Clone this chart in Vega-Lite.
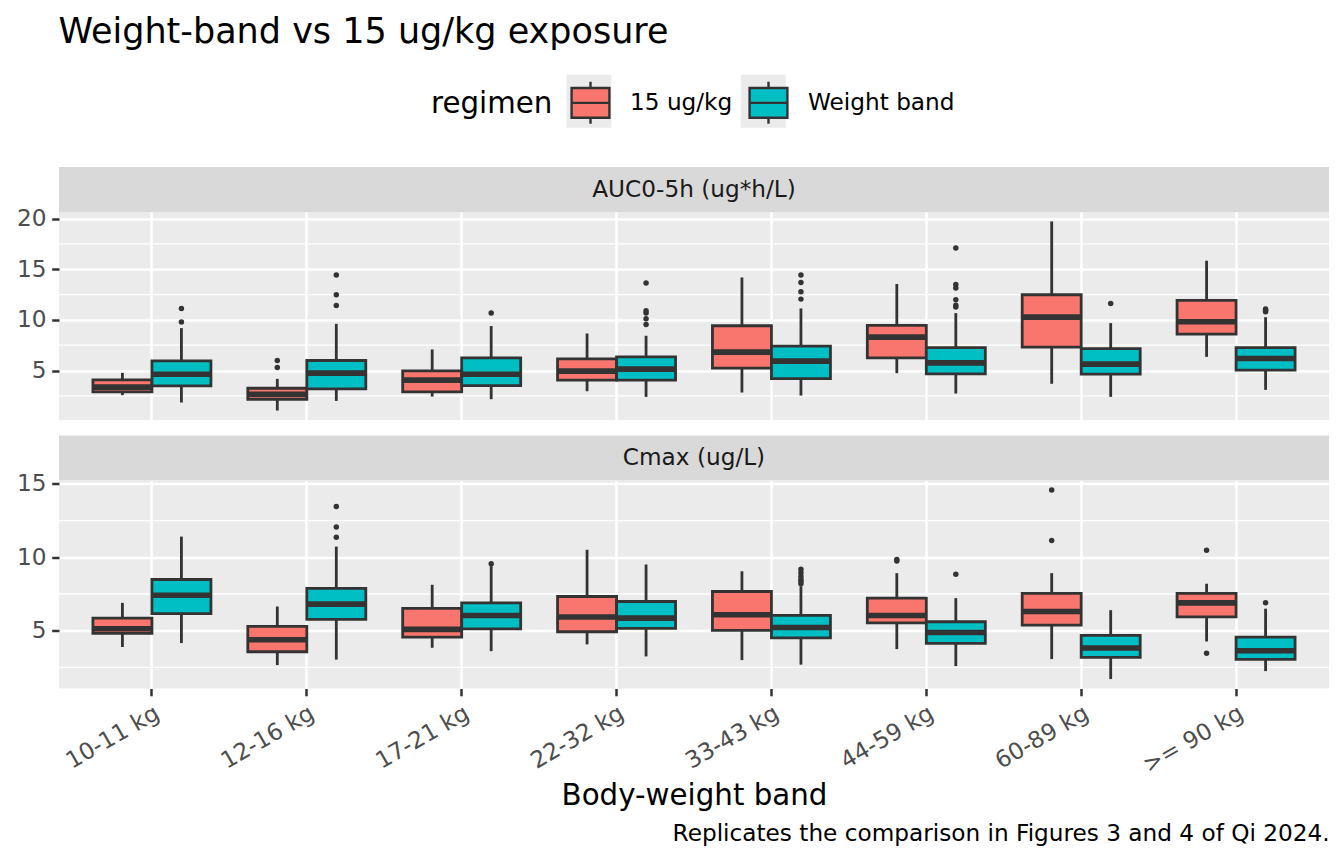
{
  "$schema": "https://vega.github.io/schema/vega-lite/v6.json",
  "padding": {"left": 16, "top": 15, "right": 16, "bottom": 10},
  "title": {
    "text": "Weight-band vs 15 ug/kg exposure",
    "anchor": "start",
    "fontSize": 35,
    "fontWeight": "normal",
    "color": "#000000",
    "dx": 42,
    "offset": 30
  },
  "datasets": {
    "boxes": [
      {"metric": "AUC", "band": "10-11 kg", "regimen": "15 ug/kg", "lower": 2.57, "q1": 2.9, "median": 3.36, "q3": 4.08, "upper": 4.77},
      {"metric": "AUC", "band": "10-11 kg", "regimen": "Weight band", "lower": 1.84, "q1": 3.49, "median": 4.64, "q3": 5.96, "upper": 9.19},
      {"metric": "AUC", "band": "12-16 kg", "regimen": "15 ug/kg", "lower": 1.05, "q1": 2.15, "median": 2.65, "q3": 3.25, "upper": 4.18},
      {"metric": "AUC", "band": "12-16 kg", "regimen": "Weight band", "lower": 2.0, "q1": 3.19, "median": 4.74, "q3": 5.99, "upper": 9.61},
      {"metric": "AUC", "band": "17-21 kg", "regimen": "15 ug/kg", "lower": 2.43, "q1": 2.9, "median": 4.05, "q3": 4.97, "upper": 7.08},
      {"metric": "AUC", "band": "17-21 kg", "regimen": "Weight band", "lower": 2.17, "q1": 3.52, "median": 4.64, "q3": 6.25, "upper": 9.39},
      {"metric": "AUC", "band": "22-32 kg", "regimen": "15 ug/kg", "lower": 2.96, "q1": 4.05, "median": 4.94, "q3": 6.16, "upper": 8.66},
      {"metric": "AUC", "band": "22-32 kg", "regimen": "Weight band", "lower": 2.4, "q1": 4.05, "median": 5.14, "q3": 6.35, "upper": 8.43},
      {"metric": "AUC", "band": "33-43 kg", "regimen": "15 ug/kg", "lower": 2.83, "q1": 5.24, "median": 6.82, "q3": 9.42, "upper": 14.19},
      {"metric": "AUC", "band": "33-43 kg", "regimen": "Weight band", "lower": 2.53, "q1": 4.21, "median": 5.93, "q3": 7.41, "upper": 11.13},
      {"metric": "AUC", "band": "44-59 kg", "regimen": "15 ug/kg", "lower": 4.74, "q1": 6.25, "median": 8.3, "q3": 9.45, "upper": 13.54},
      {"metric": "AUC", "band": "44-59 kg", "regimen": "Weight band", "lower": 2.73, "q1": 4.67, "median": 5.76, "q3": 7.27, "upper": 10.67},
      {"metric": "AUC", "band": "60-89 kg", "regimen": "15 ug/kg", "lower": 3.69, "q1": 7.31, "median": 10.27, "q3": 12.48, "upper": 19.72},
      {"metric": "AUC", "band": "60-89 kg", "regimen": "Weight band", "lower": 2.4, "q1": 4.64, "median": 5.63, "q3": 7.17, "upper": 9.68},
      {"metric": "AUC", "band": ">= 90 kg", "regimen": "15 ug/kg", "lower": 6.35, "q1": 8.6, "median": 9.81, "q3": 11.92, "upper": 15.84},
      {"metric": "AUC", "band": ">= 90 kg", "regimen": "Weight band", "lower": 3.09, "q1": 5.04, "median": 6.19, "q3": 7.27, "upper": 10.27},
      {"metric": "Cmax", "band": "10-11 kg", "regimen": "15 ug/kg", "lower": 3.89, "q1": 4.82, "median": 5.13, "q3": 5.86, "upper": 6.9},
      {"metric": "Cmax", "band": "10-11 kg", "regimen": "Weight band", "lower": 4.16, "q1": 6.16, "median": 7.42, "q3": 8.49, "upper": 11.41},
      {"metric": "Cmax", "band": "12-16 kg", "regimen": "15 ug/kg", "lower": 2.66, "q1": 3.57, "median": 4.39, "q3": 5.29, "upper": 6.65},
      {"metric": "Cmax", "band": "12-16 kg", "regimen": "Weight band", "lower": 3.03, "q1": 5.77, "median": 6.81, "q3": 7.88, "upper": 10.73},
      {"metric": "Cmax", "band": "17-21 kg", "regimen": "15 ug/kg", "lower": 3.84, "q1": 4.56, "median": 5.09, "q3": 6.52, "upper": 8.13},
      {"metric": "Cmax", "band": "17-21 kg", "regimen": "Weight band", "lower": 3.61, "q1": 5.13, "median": 6.04, "q3": 6.9, "upper": 9.4},
      {"metric": "Cmax", "band": "22-32 kg", "regimen": "15 ug/kg", "lower": 4.07, "q1": 4.93, "median": 5.93, "q3": 7.33, "upper": 10.51},
      {"metric": "Cmax", "band": "22-32 kg", "regimen": "Weight band", "lower": 3.25, "q1": 5.16, "median": 5.86, "q3": 6.99, "upper": 9.51},
      {"metric": "Cmax", "band": "33-43 kg", "regimen": "15 ug/kg", "lower": 3.0, "q1": 5.02, "median": 6.09, "q3": 7.67, "upper": 9.05},
      {"metric": "Cmax", "band": "33-43 kg", "regimen": "Weight band", "lower": 2.69, "q1": 4.52, "median": 5.22, "q3": 6.04, "upper": 8.03},
      {"metric": "Cmax", "band": "44-59 kg", "regimen": "15 ug/kg", "lower": 3.75, "q1": 5.54, "median": 6.04, "q3": 7.22, "upper": 8.92},
      {"metric": "Cmax", "band": "44-59 kg", "regimen": "Weight band", "lower": 2.59, "q1": 4.14, "median": 4.88, "q3": 5.61, "upper": 7.22},
      {"metric": "Cmax", "band": "60-89 kg", "regimen": "15 ug/kg", "lower": 3.07, "q1": 5.38, "median": 6.31, "q3": 7.54, "upper": 8.92},
      {"metric": "Cmax", "band": "60-89 kg", "regimen": "Weight band", "lower": 1.71, "q1": 3.18, "median": 3.82, "q3": 4.68, "upper": 6.4},
      {"metric": "Cmax", "band": ">= 90 kg", "regimen": "15 ug/kg", "lower": 4.27, "q1": 5.95, "median": 6.9, "q3": 7.54, "upper": 8.2},
      {"metric": "Cmax", "band": ">= 90 kg", "regimen": "Weight band", "lower": 2.25, "q1": 3.05, "median": 3.64, "q3": 4.56, "upper": 6.5}
    ],
    "outliers": [
      {"metric": "AUC", "band": "10-11 kg", "regimen": "Weight band", "value": 9.78},
      {"metric": "AUC", "band": "10-11 kg", "regimen": "Weight band", "value": 11.13},
      {"metric": "AUC", "band": "12-16 kg", "regimen": "15 ug/kg", "value": 5.3},
      {"metric": "AUC", "band": "12-16 kg", "regimen": "15 ug/kg", "value": 5.99},
      {"metric": "AUC", "band": "12-16 kg", "regimen": "Weight band", "value": 11.42},
      {"metric": "AUC", "band": "12-16 kg", "regimen": "Weight band", "value": 12.48},
      {"metric": "AUC", "band": "12-16 kg", "regimen": "Weight band", "value": 14.43},
      {"metric": "AUC", "band": "17-21 kg", "regimen": "Weight band", "value": 10.67},
      {"metric": "AUC", "band": "22-32 kg", "regimen": "Weight band", "value": 9.55},
      {"metric": "AUC", "band": "22-32 kg", "regimen": "Weight band", "value": 10.11},
      {"metric": "AUC", "band": "22-32 kg", "regimen": "Weight band", "value": 10.67},
      {"metric": "AUC", "band": "22-32 kg", "regimen": "Weight band", "value": 10.9},
      {"metric": "AUC", "band": "22-32 kg", "regimen": "Weight band", "value": 13.64},
      {"metric": "AUC", "band": "33-43 kg", "regimen": "Weight band", "value": 12.05},
      {"metric": "AUC", "band": "33-43 kg", "regimen": "Weight band", "value": 12.78},
      {"metric": "AUC", "band": "33-43 kg", "regimen": "Weight band", "value": 13.7},
      {"metric": "AUC", "band": "33-43 kg", "regimen": "Weight band", "value": 14.43},
      {"metric": "AUC", "band": "44-59 kg", "regimen": "Weight band", "value": 11.26},
      {"metric": "AUC", "band": "44-59 kg", "regimen": "Weight band", "value": 11.45},
      {"metric": "AUC", "band": "44-59 kg", "regimen": "Weight band", "value": 11.99},
      {"metric": "AUC", "band": "44-59 kg", "regimen": "Weight band", "value": 13.14},
      {"metric": "AUC", "band": "44-59 kg", "regimen": "Weight band", "value": 13.5},
      {"metric": "AUC", "band": "44-59 kg", "regimen": "Weight band", "value": 17.09},
      {"metric": "AUC", "band": "60-89 kg", "regimen": "Weight band", "value": 11.62},
      {"metric": "AUC", "band": ">= 90 kg", "regimen": "Weight band", "value": 10.8},
      {"metric": "AUC", "band": ">= 90 kg", "regimen": "Weight band", "value": 10.95},
      {"metric": "AUC", "band": ">= 90 kg", "regimen": "Weight band", "value": 11.07},
      {"metric": "Cmax", "band": "12-16 kg", "regimen": "Weight band", "value": 11.37},
      {"metric": "Cmax", "band": "12-16 kg", "regimen": "Weight band", "value": 12.07},
      {"metric": "Cmax", "band": "12-16 kg", "regimen": "Weight band", "value": 13.46},
      {"metric": "Cmax", "band": "17-21 kg", "regimen": "Weight band", "value": 9.56},
      {"metric": "Cmax", "band": "33-43 kg", "regimen": "Weight band", "value": 8.2},
      {"metric": "Cmax", "band": "33-43 kg", "regimen": "Weight band", "value": 8.35},
      {"metric": "Cmax", "band": "33-43 kg", "regimen": "Weight band", "value": 8.5},
      {"metric": "Cmax", "band": "33-43 kg", "regimen": "Weight band", "value": 8.71},
      {"metric": "Cmax", "band": "33-43 kg", "regimen": "Weight band", "value": 8.95},
      {"metric": "Cmax", "band": "33-43 kg", "regimen": "Weight band", "value": 9.19},
      {"metric": "Cmax", "band": "44-59 kg", "regimen": "15 ug/kg", "value": 9.75},
      {"metric": "Cmax", "band": "44-59 kg", "regimen": "15 ug/kg", "value": 9.85},
      {"metric": "Cmax", "band": "44-59 kg", "regimen": "Weight band", "value": 8.85},
      {"metric": "Cmax", "band": "60-89 kg", "regimen": "15 ug/kg", "value": 11.14},
      {"metric": "Cmax", "band": "60-89 kg", "regimen": "15 ug/kg", "value": 14.59},
      {"metric": "Cmax", "band": ">= 90 kg", "regimen": "15 ug/kg", "value": 3.46},
      {"metric": "Cmax", "band": ">= 90 kg", "regimen": "15 ug/kg", "value": 10.48},
      {"metric": "Cmax", "band": ">= 90 kg", "regimen": "Weight band", "value": 6.9}
    ],
    "minorGrid": [
      {"metric": "AUC", "minor": 2.5},
      {"metric": "AUC", "minor": 7.5},
      {"metric": "AUC", "minor": 12.5},
      {"metric": "AUC", "minor": 17.5},
      {"metric": "Cmax", "minor": 2.5},
      {"metric": "Cmax", "minor": 7.5},
      {"metric": "Cmax", "minor": 12.5}
    ],
    "stripAUC": [{"strip": "AUC0-5h (ug*h/L)"}],
    "stripCmax": [{"strip": "Cmax (ug/L)"}],
    "keys": []
  },
  "resolve": {"scale": {"y": "independent"}},
  "spacing": 14.5,
  "vconcat": [
    {
      "spacing": 0,
      "bounds": "flush",
      "resolve": {"scale": {"y": "independent"}},
      "vconcat": [
        {
          "width": 1270,
          "height": 45,
          "data": {"name": "stripAUC"},
          "view": {"fill": "#D9D9D9", "stroke": null},
          "mark": {"type": "text", "fontSize": 23.2, "color": "#1A1A1A"},
          "encoding": {"text": {"field": "strip", "type": "nominal"}}
        },
        {
          "width": 1270,
          "height": 208,
          "view": {"fill": "#EBEBEB", "stroke": null},
          "layer": [
            {
              "data": {"name": "minorGrid"},
              "transform": [{"filter": "datum.metric === 'AUC'"}],
              "mark": {"type": "rule", "color": "#FFFFFF", "strokeWidth": 1.3},
              "encoding": {
                "y": {
                  "field": "minor", "type": "quantitative", "title": null,
                  "scale": {"domain": [0.117, 20.65], "nice": false, "zero": false},
                  "axis": {
                    "orient": "left",
                    "title": null,
                    "values": [5, 10, 15, 20],
                    "labelFontSize": 23.2, "labelColor": "#4D4D4D", "labelPadding": 5.8,
                    "tickSize": 7.3, "tickColor": "#333333", "tickWidth": 2.5,
                    "domain": false, "grid": true, "gridColor": "#FFFFFF", "gridWidth": 2.6
                  }
                }
              }
            },
            {
              "data": {"name": "boxes"},
              "transform": [{"filter": "datum.metric === 'AUC'"}],
              "mark": {"type": "rule", "color": "#333333", "strokeWidth": 2.8},
              "encoding": {
                "x": {
                  "field": "band", "type": "nominal", "title": null,
                  "scale": {"type": "band", "domain": ["10-11 kg", "12-16 kg", "17-21 kg", "22-32 kg", "33-43 kg", "44-59 kg", "60-89 kg", ">= 90 kg"], "paddingInner": 0, "paddingOuter": 0.1},
                  "axis": {
                    "title": null,
                    "labelAngle": 0, "labelFontSize": 1, "labelOpacity": 0, "labelPadding": 0,
                    "tickSize": 0, "tickOpacity": 0,
                    "domain": false, "grid": true, "gridColor": "#FFFFFF", "gridWidth": 2.6, "bandPosition": 0.5
                  }
                },
                "xOffset": {"field": "regimen", "type": "nominal", "scale": {"type": "band", "domain": ["15 ug/kg", "Weight band"], "paddingInner": 0, "paddingOuter": 0.3125}},
                "y": {"field": "lower", "type": "quantitative", "title": null},
                "y2": {"field": "upper"}
              }
            },
            {
              "data": {"name": "boxes"},
              "transform": [{"filter": "datum.metric === 'AUC'"}],
              "mark": {"type": "bar", "stroke": "#333333", "strokeWidth": 2.8},
              "encoding": {
                "x": {"field": "band", "type": "nominal", "title": null},
                "xOffset": {"field": "regimen", "type": "nominal"},
                "y": {"field": "q1", "type": "quantitative", "title": null},
                "y2": {"field": "q3"},
                "color": {
                  "field": "regimen", "type": "nominal",
                  "scale": {"domain": ["15 ug/kg", "Weight band"], "range": ["#F8766D", "#00BFC4"]}
                }
              }
            },
            {
              "data": {"name": "boxes"},
              "transform": [{"filter": "datum.metric === 'AUC'"}],
              "mark": {"type": "bar", "filled": false, "stroke": "#333333", "strokeWidth": 5.6},
              "encoding": {
                "x": {"field": "band", "type": "nominal", "title": null},
                "xOffset": {"field": "regimen", "type": "nominal"},
                "y": {"field": "median", "type": "quantitative", "title": null},
                "y2": {"field": "median"}
              }
            },
            {
              "data": {"name": "outliers"},
              "transform": [{"filter": "datum.metric === 'AUC'"}],
              "mark": {"type": "point", "filled": true, "color": "#333333", "size": 30, "opacity": 1},
              "encoding": {
                "x": {"field": "band", "type": "nominal", "title": null},
                "xOffset": {"field": "regimen", "type": "nominal"},
                "y": {"field": "value", "type": "quantitative", "title": null}
              }
            }
          ]
        }
      ]
    },
    {
      "spacing": 0,
      "bounds": "flush",
      "resolve": {"scale": {"y": "independent"}},
      "vconcat": [
        {
          "width": 1270,
          "height": 45,
          "data": {"name": "stripCmax"},
          "view": {"fill": "#D9D9D9", "stroke": null},
          "mark": {"type": "text", "fontSize": 23.2, "color": "#1A1A1A"},
          "encoding": {"text": {"field": "strip", "type": "nominal"}}
        },
        {
          "width": 1270,
          "height": 208,
          "view": {"fill": "#EBEBEB", "stroke": null},
          "title": {
            "text": "Replicates the comparison in Figures 3 and 4 of Qi 2024.",
            "orient": "bottom",
            "anchor": "end",
            "fontSize": 23.2,
            "fontWeight": "normal",
            "color": "#000000",
            "offset": 12
          },
          "layer": [
            {
              "data": {"name": "minorGrid"},
              "transform": [{"filter": "datum.metric === 'Cmax'"}],
              "mark": {"type": "rule", "color": "#FFFFFF", "strokeWidth": 1.3},
              "encoding": {
                "y": {
                  "field": "minor", "type": "quantitative", "title": null,
                  "scale": {"domain": [1.066, 15.23], "nice": false, "zero": false},
                  "axis": {
                    "orient": "left",
                    "title": null,
                    "values": [5, 10, 15],
                    "labelFontSize": 23.2, "labelColor": "#4D4D4D", "labelPadding": 5.8,
                    "tickSize": 7.3, "tickColor": "#333333", "tickWidth": 2.5,
                    "domain": false, "grid": true, "gridColor": "#FFFFFF", "gridWidth": 2.6
                  }
                }
              }
            },
            {
              "data": {"name": "boxes"},
              "transform": [{"filter": "datum.metric === 'Cmax'"}],
              "mark": {"type": "rule", "color": "#333333", "strokeWidth": 2.8},
              "encoding": {
                "x": {
                  "field": "band", "type": "nominal", "title": "Body-weight band",
                  "scale": {"type": "band", "domain": ["10-11 kg", "12-16 kg", "17-21 kg", "22-32 kg", "33-43 kg", "44-59 kg", "60-89 kg", ">= 90 kg"], "paddingInner": 0, "paddingOuter": 0.1},
                  "axis": {
                    "title": "Body-weight band",
                    "titleFontSize": 29.3, "titleFontWeight": "normal", "titleColor": "#000000", "titlePadding": 5,
                    "labelAngle": -30, "labelAlign": "right", "labelBaseline": "top",
                    "labelFontSize": 23.2, "labelColor": "#4D4D4D", "labelPadding": 5.8,
                    "tickSize": 7.3, "tickColor": "#333333", "tickWidth": 2.5,
                    "domain": false, "grid": true, "gridColor": "#FFFFFF", "gridWidth": 2.6, "bandPosition": 0.5
                  }
                },
                "xOffset": {"field": "regimen", "type": "nominal", "scale": {"type": "band", "domain": ["15 ug/kg", "Weight band"], "paddingInner": 0, "paddingOuter": 0.3125}},
                "y": {"field": "lower", "type": "quantitative", "title": null},
                "y2": {"field": "upper"}
              }
            },
            {
              "data": {"name": "boxes"},
              "transform": [{"filter": "datum.metric === 'Cmax'"}],
              "mark": {"type": "bar", "stroke": "#333333", "strokeWidth": 2.8},
              "encoding": {
                "x": {"field": "band", "type": "nominal", "title": "Body-weight band"},
                "xOffset": {"field": "regimen", "type": "nominal"},
                "y": {"field": "q1", "type": "quantitative", "title": null},
                "y2": {"field": "q3"},
                "color": {
                  "field": "regimen", "type": "nominal",
                  "scale": {"domain": ["15 ug/kg", "Weight band"], "range": ["#F8766D", "#00BFC4"]},
                  "legend": {
                    "title": "regimen",
                    "orient": "none",
                    "legendX": 372,
                    "legendY": -87,
                    "zindex": 2,
                    "direction": "horizontal",
                    "titleOrient": "left",
                    "titleFontSize": 29.3,
                    "titleFontWeight": "normal",
                    "titleColor": "#000000",
                    "titlePadding": 15,
                    "labelFontSize": 23.2,
                    "labelColor": "#000000",
                    "labelOffset": 17,
                    "symbolType": "M-0.9,-0.71H0.9V0.71H-0.9ZM-0.9,0H0.9M0,-0.71V-1M0,0.71V1",
                    "symbolSize": 1764,
                    "symbolStrokeColor": "#333333",
                    "symbolStrokeWidth": 2.4,
                    "symbolOpacity": 1,
                    "columnPadding": 11,
                    "padding": 0
                  }
                }
              }
            },
            {
              "data": {"name": "boxes"},
              "transform": [{"filter": "datum.metric === 'Cmax'"}],
              "mark": {"type": "bar", "filled": false, "stroke": "#333333", "strokeWidth": 5.6},
              "encoding": {
                "x": {"field": "band", "type": "nominal", "title": "Body-weight band"},
                "xOffset": {"field": "regimen", "type": "nominal"},
                "y": {"field": "median", "type": "quantitative", "title": null},
                "y2": {"field": "median"}
              }
            },
            {
              "data": {"name": "outliers"},
              "transform": [{"filter": "datum.metric === 'Cmax'"}],
              "mark": {"type": "point", "filled": true, "color": "#333333", "size": 30, "opacity": 1},
              "encoding": {
                "x": {"field": "band", "type": "nominal", "title": "Body-weight band"},
                "xOffset": {"field": "regimen", "type": "nominal"},
                "y": {"field": "value", "type": "quantitative", "title": null}
              }
            },
            {
              "data": {"name": "keys"},
              "mark": {"type": "point", "filled": true, "color": "#EBEBEB", "opacity": 1},
              "encoding": {
                "shape": {
                  "field": "key", "type": "nominal",
                  "scale": {"domain": ["k1", "k2"], "range": ["M-1.07,-1.26H1.07V1.26H-1.07Z", "M-1.07,-1.26H1.07V1.26H-1.07Z"]},
                  "legend": {
                    "title": null,
                    "orient": "none",
                    "legendX": 508.95,
                    "legendY": -87,
                    "zindex": 1,
                    "direction": "horizontal",
                    "labelExpr": "''",
                    "labelFontSize": 23.2,
                    "labelOffset": 17,
                    "symbolSize": 1764,
                    "symbolFillColor": "#EBEBEB",
                    "symbolStrokeColor": "#EBEBEB",
                    "symbolStrokeWidth": 0,
                    "symbolOpacity": 1,
                    "columnPadding": 113.3,
                    "padding": 0
                  }
                }
              }
            }
          ]
        }
      ]
    }
  ],
  "config": {
    "font": "DejaVu Sans",
    "view": {"stroke": null},
    "axis": {"labelFont": "DejaVu Sans", "titleFont": "DejaVu Sans"},
    "legend": {"labelFont": "DejaVu Sans", "titleFont": "DejaVu Sans"}
  }
}
